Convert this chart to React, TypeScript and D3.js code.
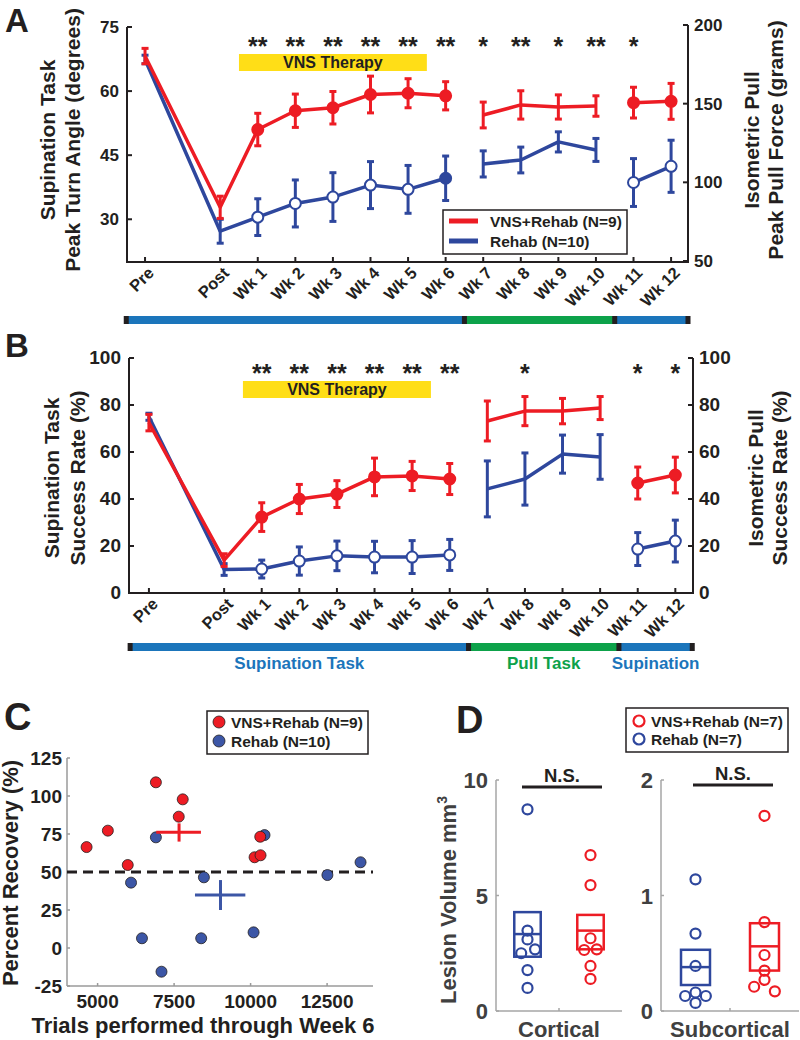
import React from 'react';
import * as d3 from 'd3';

const RED = '#ED1C24';
const BLUE = '#2E479D';
const PHASE_BLUE = '#1B75BB';
const PHASE_GREEN = '#0DA24A';
const YELLOW = '#FFDE17';
const DARK = '#231F20';
const FONT = '"Liberation Sans", Arial, Helvetica, sans-serif';

// ---------- Panels A & B: time course ----------
const timeLabels = ['Pre', 'Post', 'Wk 1', 'Wk 2', 'Wk 3', 'Wk 4', 'Wk 5', 'Wk 6', 'Wk 7', 'Wk 8', 'Wk 9', 'Wk 10', 'Wk 11', 'Wk 12'];
const timePos = [0, 2, 3, 4, 5, 6, 7, 8, 9, 10, 11, 12, 13, 14];
const segments = [[0, 7], [8, 11], [12, 13]];
// which y axis each time point uses (L = supination, R = pull)
const axisSide = ['L', 'L', 'L', 'L', 'L', 'L', 'L', 'L', 'R', 'R', 'R', 'R', 'L', 'L'];

// Panel A: peak turn angle (deg) / peak pull force (g)
const vnsPeak = [68.2, 32.8, 51.0, 55.4, 56.1, 59.2, 59.5, 58.9, 142.8, 149.2, 147.9, 148.5, 57.3, 57.6];
const vnsPeakErr = [1.8, 2.6, 3.8, 3.9, 3.8, 4.3, 3.4, 3.3, 8.2, 9.0, 7.7, 6.5, 3.6, 4.2];
const rehabPeak = [67.4, 27.2, 30.5, 33.7, 35.2, 38.0, 37.0, 39.6, 111.7, 114.2, 125.7, 120.6, 38.6, 42.4];
const rehabPeakErr = [1.0, 2.8, 4.3, 5.5, 5.7, 5.5, 5.6, 5.2, 8.3, 8.2, 6.4, 7.3, 5.6, 6.1];
const starsA = ['', '', '**', '**', '**', '**', '**', '**', '*', '**', '*', '**', '*', ''];
const markersVnsA = ['none', 'none', 'fill', 'fill', 'fill', 'fill', 'fill', 'fill', 'none', 'none', 'none', 'none', 'fill', 'fill'];
const markersRehabA = ['none', 'none', 'open', 'open', 'open', 'open', 'open', 'fill', 'none', 'none', 'none', 'none', 'open', 'open'];
const ticksAL = [30, 45, 60, 75];
const ticksAR = [50, 100, 150, 200];

// Panel B: success rate (%)
const vnsSuccess = [72.5, 14.0, 32.3, 40.0, 42.1, 49.4, 49.8, 48.5, 73.2, 77.4, 77.4, 78.7, 46.8, 50.2];
const vnsSuccessErr = [3.5, 2.7, 6.1, 6.2, 5.7, 8.0, 6.2, 6.6, 8.5, 6.2, 5.4, 4.9, 6.8, 7.6];
const rehabSuccess = [75.0, 10.0, 10.2, 13.6, 15.8, 15.3, 15.3, 16.2, 44.3, 48.5, 59.1, 57.9, 18.7, 22.1];
const rehabSuccessErr = [1.5, 2.5, 3.8, 6.0, 6.3, 6.7, 7.0, 6.6, 11.9, 11.1, 8.1, 9.5, 7.0, 8.9];
const starsB = ['', '', '**', '**', '**', '**', '**', '**', '', '*', '', '', '*', '*'];
const markersVnsB = ['none', 'none', 'fill', 'fill', 'fill', 'fill', 'fill', 'fill', 'none', 'none', 'none', 'none', 'fill', 'fill'];
const markersRehabB = ['none', 'none', 'open', 'open', 'open', 'open', 'open', 'open', 'none', 'none', 'none', 'none', 'open', 'open'];
const ticksB = [0, 20, 40, 60, 80, 100];

const vnsTherapy = [2.5, 7.5];
const phaseNames = ['Supination Task', 'Pull Task', 'Supination'];
const phaseBounds = [[-0.5, 8.5], [8.5, 12.5], [12.5, 14.45]];
const phaseColors = [PHASE_BLUE, PHASE_GREEN, PHASE_BLUE];

// ---------- Panel C ----------
const vnsTrials = [4640, 5335, 5985, 6905, 7782, 7652, 10130, 10325, 10315];
const vnsRecovery = [66.4, 77.2, 54.6, 109.0, 97.8, 86.4, 59.7, 61.0, 73.2];
const rehabTrials = [6905, 6093, 6450, 7088, 8474, 8385, 10097, 10455, 12510, 13593];
const rehabRecovery = [72.8, 43.0, 6.4, -15.6, 46.5, 6.4, 10.3, 74.3, 48.0, 56.4];
const vnsMean = { x: 7662, y: 76.1, x0: 6916, x1: 8377, y0: 70, y1: 82 };
const rehabMean = { x: 9016, y: 34.9, x0: 8182, x1: 9828, y0: 25, y1: 44.7 };
const ticksCX = [5000, 7500, 10000, 12500];
const ticksCY = [-25, 0, 25, 50, 75, 100, 125];

// ---------- Panel D ----------
const cortRehab = [8.73, 3.48, 3.1, 2.5, 2.67, 1.77, 1.0];
const cortRehabJit = [0, 0, 0, -0.1, 0.12, 0, 0];
const cortVns = [6.75, 5.45, 3.15, 2.64, 2.67, 1.95, 1.39];
const cortVnsJit = [0, 0, 0, -0.1, 0.1, 0, 0];
const cortRehabBox = [2.35, 3.33, 4.28];
const cortVnsBox = [2.67, 3.48, 4.16];
const subRehab = [1.14, 0.67, 0.39, 0.13, 0.13, 0.07, 0.16];
const subRehabJit = [0, 0, 0, -0.15, 0.15, 0, 0];
const subVns = [1.69, 0.77, 0.485, 0.35, 0.27, 0.21, 0.17];
const subVnsJit = [0, 0, 0, 0, 0, -0.15, 0.15];
const subRehabBox = [0.225, 0.38, 0.53];
const subVnsBox = [0.35, 0.56, 0.76];
const ticksD1 = [0, 5, 10];
const ticksD2 = [0, 1, 2];

type Scale = d3.ScaleLinear<number, number>;

function Series(props: {
  xs: Scale; yFor: (i: number) => Scale; vals: number[]; errs: number[]; color: string; markers: string[];
}) {
  const { xs, yFor, vals, errs, color, markers } = props;
  const line = d3.line<number>().x((i) => xs(timePos[i])).y((i) => yFor(i)(vals[i]));
  return (
    <g>
      {segments.map(([a, b], k) => (
        <path key={k} d={line(d3.range(a, b + 1)) || ''} fill="none" stroke={color} strokeWidth={3.5} strokeLinejoin="round" />
      ))}
      {vals.map((v, i) => {
        const x = xs(timePos[i]);
        const y0 = yFor(i)(v - errs[i]);
        const y1 = yFor(i)(v + errs[i]);
        return (
          <g key={i} stroke={color} strokeWidth={3}>
            <line x1={x} x2={x} y1={y0} y2={y1} />
            <line x1={x - 3.5} x2={x + 3.5} y1={y0} y2={y0} />
            <line x1={x - 3.5} x2={x + 3.5} y1={y1} y2={y1} />
          </g>
        );
      })}
      {vals.map((v, i) =>
        markers[i] === 'none' ? null : (
          <circle key={i} cx={xs(timePos[i])} cy={yFor(i)(v)} r={5.5}
            fill={markers[i] === 'fill' ? color : '#fff'} stroke={color} strokeWidth={2} />
        )
      )}
    </g>
  );
}

function TimePanel(props: {
  xs: Scale; yL: Scale; yR: Scale; ticksL: number[]; ticksR: number[]; tickSize: number;
  vns: number[]; vnsErr: number[]; rehab: number[]; rehabErr: number[];
  mVns: string[]; mRehab: string[]; stars: string[]; starY: number; barY: number;
  labelL: string[]; labelR: string[]; labelLX: number[]; labelRX: number[]; labelY: number;
  phaseY: number; showPhaseNames: boolean; letter: string; letterY: number;
}) {
  const p = props;
  const [x0, x1] = p.xs.range();
  const yBottom = p.yL.range()[0];
  const yTop = p.yL.range()[1];
  const yFor = (i: number) => (axisSide[i] === 'L' ? p.yL : p.yR);
  return (
    <g fontFamily={FONT} fontWeight="bold">
      <text x={5} y={p.letterY} fontSize={33} fill={DARK}>{p.letter}</text>
      {/* VNS therapy bar */}
      <rect x={p.xs(vnsTherapy[0])} y={p.barY} width={p.xs(vnsTherapy[1]) - p.xs(vnsTherapy[0])} height={17} fill={YELLOW} />
      <text x={(p.xs(vnsTherapy[0]) + p.xs(vnsTherapy[1])) / 2} y={p.barY + 14} fontSize={16} textAnchor="middle" fill={DARK}>VNS Therapy</text>
      {/* stars */}
      {p.stars.map((s, i) => (s ? (
        <text key={i} x={p.xs(timePos[i])} y={p.starY} fontSize={25} textAnchor="middle" fill={DARK}>{s}</text>
      ) : null))}
      {/* axes */}
      <g stroke={DARK} strokeWidth={2} fill="none">
        <line x1={x0} x2={x0} y1={yTop} y2={yBottom + 1} />
        <line x1={x1} x2={x1} y1={p.yR.range()[1]} y2={yBottom + 1} />
        <line x1={x0} x2={x1} y1={yBottom} y2={yBottom} />
        {p.ticksL.map((t) => <line key={'l' + t} x1={x0} x2={x0 + 5} y1={p.yL(t)} y2={p.yL(t)} />)}
        {p.ticksR.map((t) => <line key={'r' + t} x1={x1} x2={x1 - 5} y1={p.yR(t)} y2={p.yR(t)} />)}
        {timePos.map((t) => <line key={'x' + t} x1={p.xs(t)} x2={p.xs(t)} y1={yBottom} y2={yBottom - 5} />)}
      </g>
      {p.ticksL.map((t) => (
        <text key={'lt' + t} x={x0 - 8} y={p.yL(t) + 6} fontSize={p.tickSize} textAnchor="end" fill={DARK}>{t}</text>
      ))}
      {p.ticksR.map((t) => (
        <text key={'rt' + t} x={x1 + 6} y={p.yR(t) + 6} fontSize={p.tickSize} textAnchor="start" fill={DARK}>{t}</text>
      ))}
      {timeLabels.map((l, i) => (
        <text key={'xl' + i} transform={`translate(${p.xs(timePos[i]) + 10},${yBottom + 12}) rotate(-45)`} fontSize={16.5} textAnchor="end" fill={DARK}>{l}</text>
      ))}
      {/* axis titles */}
      {p.labelL.map((l, k) => (
        <text key={'yl' + k} transform={`translate(${p.labelLX[k]},${p.labelY}) rotate(-90)`} fontSize={21} textAnchor="middle" fill={DARK}>{l}</text>
      ))}
      {p.labelR.map((l, k) => (
        <text key={'yr' + k} transform={`translate(${p.labelRX[k]},${p.labelY}) rotate(-90)`} fontSize={21} textAnchor="middle" fill={DARK}>{l}</text>
      ))}
      {/* data */}
      <Series xs={p.xs} yFor={yFor} vals={p.rehab} errs={p.rehabErr} color={BLUE} markers={p.mRehab} />
      <Series xs={p.xs} yFor={yFor} vals={p.vns} errs={p.vnsErr} color={RED} markers={p.mVns} />
      {/* phase bar */}
      {phaseBounds.map(([a, b], k) => (
        <rect key={'ph' + k} x={p.xs(a)} y={p.phaseY} width={p.xs(b) - p.xs(a)} height={8} fill={phaseColors[k]} />
      ))}
      {[phaseBounds[0][0], phaseBounds[1][0], phaseBounds[2][0], phaseBounds[2][1]].map((b, k) => (
        <rect key={'sep' + k} x={p.xs(b) - 2.5} y={p.phaseY} width={5} height={8} fill={DARK} />
      ))}
      {p.showPhaseNames && phaseBounds.map(([a, b], k) => (
        <text key={'pn' + k} x={(p.xs(a) + p.xs(b)) / 2} y={p.phaseY + 26} fontSize={17} textAnchor="middle" fill={phaseColors[k]}>{phaseNames[k]}</text>
      ))}
    </g>
  );
}

function PanelC() {
  const x = d3.scaleLinear().domain([4000, 14000]).range([67, 373]);
  const y = d3.scaleLinear().domain([-25, 125]).range([986, 758]);
  const AX = '#9A9A9A';
  return (
    <g fontFamily={FONT} fontWeight="bold">
      <text x={4} y={730} fontSize={38} fill={DARK}>C</text>
      <g stroke={AX} strokeWidth={1.5}>
        <line x1={x.range()[0]} x2={x.range()[0]} y1={y.range()[1]} y2={y.range()[0]} />
        <line x1={x.range()[0]} x2={x.range()[1]} y1={y.range()[0]} y2={y.range()[0]} />
        {ticksCY.map((t) => <line key={t} x1={x.range()[0]} x2={x.range()[0] + 3} y1={y(t)} y2={y(t)} />)}
        {ticksCX.map((t) => <line key={t} x1={x(t)} x2={x(t)} y1={y.range()[0]} y2={y.range()[0] - 3} />)}
      </g>
      {ticksCY.map((t) => (
        <text key={t} x={62} y={y(t) + 7} fontSize={19} textAnchor="end" fill={DARK}>{t}</text>
      ))}
      {ticksCX.map((t) => (
        <text key={t} x={x(t)} y={1008} fontSize={19} textAnchor="middle" fill={DARK}>{t}</text>
      ))}
      <text transform={`translate(18,873) rotate(-90)`} fontSize={22} textAnchor="middle" fill={DARK}>Percent Recovery (%)</text>
      <text x={203} y={1033} fontSize={22} textAnchor="middle" fill={DARK}>Trials performed through Week 6</text>
      <line x1={x.range()[0]} x2={x.range()[1]} y1={y(50)} y2={y(50)} stroke={DARK} strokeWidth={3} strokeDasharray="10,6" />
      {rehabTrials.map((t, i) => (
        <circle key={'b' + i} cx={x(t)} cy={y(rehabRecovery[i])} r={5.5} fill="#3C56A6" stroke={DARK} strokeWidth={0.8} />
      ))}
      {vnsTrials.map((t, i) => (
        <circle key={'r' + i} cx={x(t)} cy={y(vnsRecovery[i])} r={5.5} fill={RED} stroke={DARK} strokeWidth={0.8} />
      ))}
      {[{ m: vnsMean, c: RED }, { m: rehabMean, c: '#3C56A6' }].map(({ m, c }, k) => (
        <g key={k} stroke={c} strokeWidth={3}>
          <line x1={x(m.x0)} x2={x(m.x1)} y1={y(m.y)} y2={y(m.y)} />
          <line x1={x(m.x)} x2={x(m.x)} y1={y(m.y0)} y2={y(m.y1)} />
        </g>
      ))}
      <rect x={207} y={711} width={161} height={43} fill="#fff" stroke={DARK} strokeWidth={1.5} />
      <circle cx={219} cy={722} r={6} fill={RED} stroke={DARK} strokeWidth={0.8} />
      <circle cx={219} cy={741} r={6} fill="#3C56A6" stroke={DARK} strokeWidth={0.8} />
      <text x={231} y={727.5} fontSize={15.5} fill={DARK}>VNS+Rehab (N=9)</text>
      <text x={231} y={746.5} fontSize={15.5} fill={DARK}>Rehab (N=10)</text>
    </g>
  );
}

function LesionPlot(props: {
  range: [number, number]; max: number; ticks: number[]; rehab: number[]; rehabJit: number[]; vns: number[]; vnsJit: number[];
  rehabBox: number[]; vnsBox: number[]; label: string; nsX: [number, number]; nsY: number;
}) {
  const p = props;
  const x = d3.scaleLinear().domain([0.5, 2.5]).range(p.range);
  const y = d3.scaleLinear().domain([0, p.max]).range([1011, 780]);
  const AX = '#A6A6A6';
  const TXT = '#404040';
  const box = (b: number[], cx: number, c: string) => (
    <g stroke={c} strokeWidth={2.5} fill="none">
      <rect x={x(cx - 0.21)} y={y(b[2])} width={x(cx + 0.21) - x(cx - 0.21)} height={y(b[0]) - y(b[2])} />
      <line x1={x(cx - 0.21)} x2={x(cx + 0.21)} y1={y(b[1])} y2={y(b[1])} />
    </g>
  );
  return (
    <g fontFamily={FONT} fontWeight="bold">
      <g stroke={AX} strokeWidth={1.5}>
        <line x1={p.range[0]} x2={p.range[0]} y1={780} y2={1011} />
        <line x1={p.range[0]} x2={p.range[1]} y1={1011} y2={1011} />
        <line x1={x(1.5)} x2={x(1.5)} y1={1011} y2={1008} />
        {p.ticks.map((t) => <line key={t} x1={p.range[0]} x2={p.range[0] + 3} y1={y(t)} y2={y(t)} />)}
      </g>
      {p.ticks.map((t) => (
        <text key={t} x={p.range[0] - 8} y={y(t) + 8} fontSize={22} textAnchor="end" fill={TXT}>{t}</text>
      ))}
      <text x={x(1.5)} y={1037} fontSize={22} textAnchor="middle" fill={TXT}>{p.label}</text>
      <line x1={p.nsX[0]} x2={p.nsX[1]} y1={p.nsY} y2={p.nsY} stroke={DARK} strokeWidth={3} />
      <text x={(p.nsX[0] + p.nsX[1]) / 2} y={p.nsY - 5} fontSize={18.5} textAnchor="middle" fill={DARK}>N.S.</text>
      {box(p.rehabBox, 1, BLUE)}
      {box(p.vnsBox, 2, RED)}
      {p.rehab.map((v, i) => (
        <circle key={'b' + i} cx={x(1 + p.rehabJit[i])} cy={y(v)} r={5} fill="none" stroke={BLUE} strokeWidth={2.2} />
      ))}
      {p.vns.map((v, i) => (
        <circle key={'r' + i} cx={x(2 + p.vnsJit[i])} cy={y(v)} r={5} fill="none" stroke={RED} strokeWidth={2.2} />
      ))}
    </g>
  );
}

function PanelD() {
  return (
    <g fontFamily={FONT} fontWeight="bold">
      <text x={456} y={733} fontSize={38} fill={DARK}>D</text>
      <rect x={626} y={708} width={162} height={44} fill="#fff" stroke={DARK} strokeWidth={1.5} />
      <circle cx={639} cy={721} r={5.5} fill="none" stroke={RED} strokeWidth={2.2} />
      <circle cx={639} cy={739} r={5.5} fill="none" stroke={BLUE} strokeWidth={2.2} />
      <text x={651} y={726.5} fontSize={15.5} fill={DARK}>VNS+Rehab (N=7)</text>
      <text x={651} y={744.5} fontSize={15.5} fill={DARK}>Rehab (N=7)</text>
      <text transform="translate(456,900) rotate(-90)" fontSize={22} textAnchor="middle" fill="#404040">
        Lesion Volume mm<tspan fontSize={14} dy={-9}>3</tspan>
      </text>
      <LesionPlot range={[496, 622]} max={10} ticks={ticksD1} rehab={cortRehab} rehabJit={cortRehabJit} vns={cortVns} vnsJit={cortVnsJit}
        rehabBox={cortRehabBox} vnsBox={cortVnsBox} label="Cortical" nsX={[522, 602]} nsY={787} />
      <LesionPlot range={[661, 799]} max={2} ticks={ticksD2} rehab={subRehab} rehabJit={subRehabJit} vns={subVns} vnsJit={subVnsJit}
        rehabBox={subRehabBox} vnsBox={subVnsBox} label="Subcortical" nsX={[693, 773]} nsY={785} />
    </g>
  );
}

export default function App() {
  const xA = d3.scaleLinear().domain([-0.48, 14.45]).range([127, 688]);
  const yAL = d3.scaleLinear().domain([20, 75]).range([262, 27]);
  const yAR = d3.scaleLinear().domain([50, 200]).range([261, 25]);
  const xB = d3.scaleLinear().domain([-0.53, 14.47]).range([129, 693]);
  const yB = d3.scaleLinear().domain([0, 100]).range([593, 358]);
  return (
    <svg width={800} height={1040} style={{ position: 'absolute', left: 0, top: 0, background: '#fff' }}>
      <rect width={800} height={1040} fill="#fff" />
      <TimePanel xs={xA} yL={yAL} yR={yAR} ticksL={ticksAL} ticksR={ticksAR} tickSize={17}
        vns={vnsPeak} vnsErr={vnsPeakErr} rehab={rehabPeak} rehabErr={rehabPeakErr}
        mVns={markersVnsA} mRehab={markersRehabA} stars={starsA} starY={55} barY={54}
        labelL={['Supination Task', 'Peak Turn Angle (degrees)']} labelR={['Isometric Pull', 'Peak Pull Force (grams)']}
        labelLX={[55, 80]} labelRX={[759, 783]} labelY={140}
        phaseY={316} showPhaseNames={false} letter="A" letterY={32} />
      {/* legend A */}
      <g fontFamily={FONT} fontWeight="bold">
        <rect x={443} y={210} width={184} height={44} fill="#fff" stroke={DARK} strokeWidth={1.5} />
        <line x1={449} x2={478} y1={221} y2={221} stroke={RED} strokeWidth={5} />
        <line x1={449} x2={478} y1={241} y2={241} stroke={BLUE} strokeWidth={5} />
        <text x={490} y={226.5} fontSize={15.5} fill={DARK}>VNS+Rehab (N=9)</text>
        <text x={490} y={246.5} fontSize={15.5} fill={DARK}>Rehab (N=10)</text>
      </g>
      <TimePanel xs={xB} yL={yB} yR={yB} ticksL={ticksB} ticksR={ticksB} tickSize={19}
        vns={vnsSuccess} vnsErr={vnsSuccessErr} rehab={rehabSuccess} rehabErr={rehabSuccessErr}
        mVns={markersVnsB} mRehab={markersRehabB} stars={starsB} starY={382} barY={381}
        labelL={['Supination Task', 'Success Rate (%)']} labelR={['Isometric Pull', 'Success Rate (%)']}
        labelLX={[59, 85]} labelRX={[763, 787]} labelY={478}
        phaseY={643} showPhaseNames={true} letter="B" letterY={357} />
      <PanelC />
      <PanelD />
    </svg>
  );
}
